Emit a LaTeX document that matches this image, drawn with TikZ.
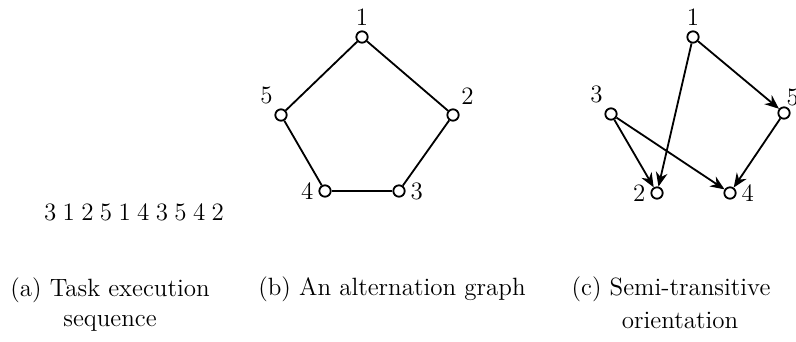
\documentclass[tikz,border=0pt]{standalone}
\usepackage{tikz}
\usetikzlibrary{arrows.meta}
\tikzset{
  vertex/.style={circle, draw, fill=white, thick, minimum size=5pt, inner sep=0pt},
  vlabel/.style={font=\fontsize{11}{13.6}\selectfont, inner sep=2pt},
  edgeline/.style={thick},
  arcline/.style={thick, -{Stealth[length=2.2mm,width=1.8mm]}},
  subcaption/.style={align=center, font=\fontsize{11}{13.6}\selectfont},
}

\begin{document}
\begin{tikzpicture}[x=0.44pt, y=-0.44pt]
  \useasboundingbox (0,0) rectangle (796,341);

  % (a) sequence
  \node[subcaption] (seq) at (134,212) {\spaceskip=2.8pt 3 1 2 5 1 4 3 5 4 2};

  % (b) alternation graph
  \node[vertex, label={[vlabel]above:1}] (b1) at (362,37) {};
  \node[vertex, label={[vlabel]60:2}] (b2) at (453,115) {};
  \node[vertex, label={[vlabel]right:3}] (b3) at (399,191) {};
  \node[vertex, label={[vlabel]left:4}] (b4) at (325,191) {};
  \node[vertex, label={[vlabel]120:5}] (b5) at (281,115) {};
  \foreach \u/\v in {b1/b2, b2/b3, b3/b4, b4/b5, b5/b1}
    \draw[edgeline] (\u) -- (\v);

  % (c) semi-transitive orientation
  \node[vertex, label={[vlabel]above:1}] (c1) at (693,37) {};
  \node[vertex, label={[vlabel]left:2}] (c2) at (657,193) {};
  \node[vertex, label={[vlabel]120:3}] (c3) at (611,114) {};
  \node[vertex, label={[vlabel]right:4}] (c4) at (730,193) {};
  \node[vertex, label={[vlabel, inner sep=0pt]70:5}] (c5) at (784,113) {};
  \foreach \u/\v in {c1/c2, c1/c5, c5/c4, c3/c2, c3/c4}
    \draw[arcline] (\u) -- (\v);

  % captions
  \node[subcaption] (capa) at (110,304.5) {(a) Task execution\\ sequence};
  \node[subcaption] (capb) at (392,289) {(b) An alternation graph};
  \node[subcaption] (capc) at (671,289) {(c) Semi-transitive};
  \node[subcaption] (capc2) at (680,320) {orientation};
\end{tikzpicture}
\end{document}
